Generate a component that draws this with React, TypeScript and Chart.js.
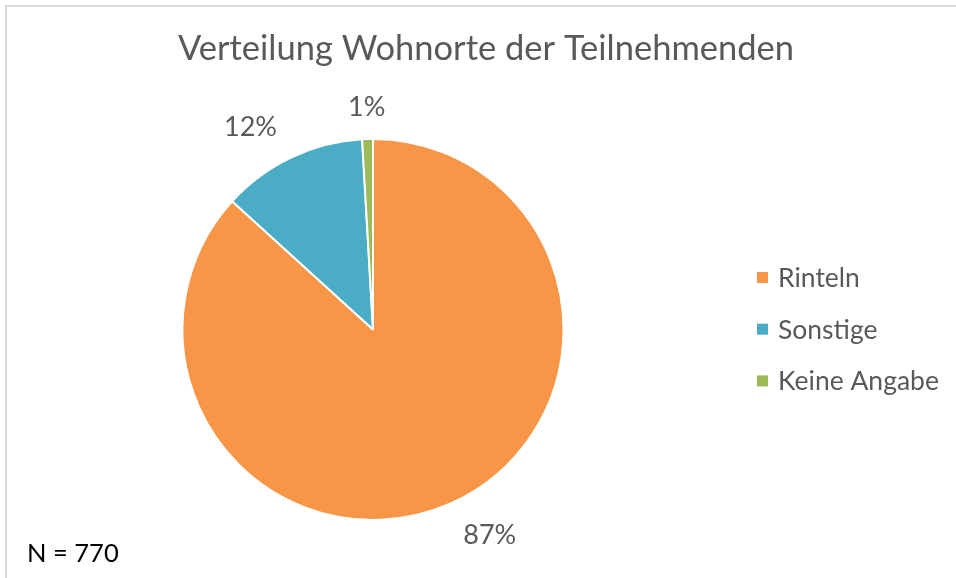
import React, { useEffect, useRef } from "react";
import { Chart, registerables } from "chart.js";

Chart.register(...registerables);

const titleText = "Verteilung Wohnorte der Teilnehmenden";
const categories = ["Rinteln", "Sonstige", "Keine Angabe"];
const counts = [668, 95, 7];
const colors = ["#F79646", "#4BACC6", "#9BBB59"];
const noteText = "N = 770";

const FONT = "Lato, 'Open Sans', sans-serif";
const TEXT_GRAY = "#595959";

const decorPlugin = {
  id: "decor",
  beforeDraw(chart: any) {
    const ctx = chart.ctx;
    ctx.save();
    ctx.fillStyle = "#ffffff";
    ctx.fillRect(0, 0, chart.width, chart.height);
    ctx.fillStyle = "#D9D9D9";
    ctx.fillRect(5, 5, chart.width - 5, 2);
    ctx.fillRect(5, 5, 2, chart.height - 5);
    ctx.restore();
  },
  afterDraw(chart: any) {
    const ctx = chart.ctx;
    ctx.save();
    // title
    ctx.fillStyle = TEXT_GRAY;
    ctx.font = `34.5px ${FONT}`;
    ctx.textAlign = "center";
    ctx.textBaseline = "alphabetic";
    ctx.fillText(titleText, 486, 60);

    // percentage labels (outside, best-fit style)
    const meta = chart.getDatasetMeta(0);
    const data = chart.data.datasets[0].data as number[];
    const total = data.reduce((a: number, b: number) => a + b, 0);
    ctx.font = `27px ${FONT}`;
    ctx.textBaseline = "middle";
    ctx.textAlign = "center";
    meta.data.forEach((arc: any, i: number) => {
      const { x, y, startAngle, endAngle, outerRadius } = arc.getProps(
        ["x", "y", "startAngle", "endAngle", "outerRadius"],
        true
      );
      const share = data[i] / total;
      const small = share < 0.05;
      const mid = (startAngle + endAngle) / 2 + (small ? 0 : -0.1);
      const dist = outerRadius + (small ? 32 : 46);
      const lx = x + Math.cos(mid) * dist;
      const ly = y + Math.sin(mid) * dist;
      ctx.fillText(Math.round(share * 100) + "%", lx, ly);
    });

    // legend
    const labels = chart.data.labels as string[];
    const bg = chart.data.datasets[0].backgroundColor as string[];
    ctx.font = `26.5px ${FONT}`;
    ctx.textAlign = "left";
    ctx.textBaseline = "middle";
    labels.forEach((lab: string, i: number) => {
      const cy = 277.5 + i * 51.7;
      ctx.fillStyle = bg[i];
      ctx.fillRect(757, cy - 5.5, 11, 11);
      ctx.fillStyle = TEXT_GRAY;
      ctx.fillText(lab, 778, cy + 1);
    });

    // N note
    ctx.fillStyle = "#000000";
    ctx.font = `25.5px ${FONT}`;
    ctx.textBaseline = "alphabetic";
    ctx.fillText(noteText, 27, 562);
    ctx.restore();
  },
};

export default function App() {
  const ref = useRef<HTMLCanvasElement | null>(null);
  useEffect(() => {
    if (!ref.current) return;
    const chart = new Chart(ref.current, {
      type: "pie",
      data: {
        labels: categories,
        datasets: [
          {
            data: counts,
            backgroundColor: colors,
            borderColor: "#ffffff",
            borderWidth: 2,
          },
        ],
      },
      options: {
        responsive: false,
        animation: false,
        events: [],
        layout: {
          padding: { left: 181.5, top: 138, right: 391.5, bottom: 57 },
        },
        plugins: {
          legend: { display: false },
          title: { display: false },
          tooltip: { enabled: false },
        },
      },
      plugins: [decorPlugin],
    });
    return () => chart.destroy();
  }, []);
  return (
    <div style={{ position: "fixed", left: 0, top: 0, width: 956, height: 578, background: "#fff" }}>
      <canvas ref={ref} width={956} height={578} style={{ display: "block" }} />
    </div>
  );
}
